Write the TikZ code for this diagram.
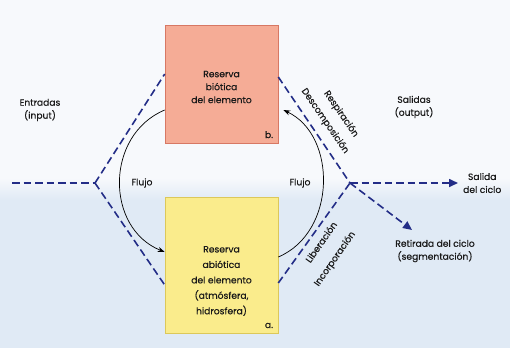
\documentclass[tikz,border=0pt]{standalone}
\usepackage{fontspec}
\setmainfont{Poppins}[FakeBold=0.4]
\usetikzlibrary{arrows.meta}
\definecolor{pinkfill}{RGB}{245,172,150}
\definecolor{pinkdraw}{RGB}{215,120,100}
\definecolor{yelfill}{RGB}{250,236,140}
\definecolor{yeldraw}{RGB}{220,200,90}
\definecolor{navy}{RGB}{35,45,135}
\definecolor{txt}{RGB}{25,25,25}
\definecolor{bgtop}{RGB}{247,249,252}
\definecolor{bgbot}{RGB}{224,234,245}
\begin{document}
\begin{tikzpicture}[x=1bp,y=-1bp,
  every node/.style={text=txt},
  lbl/.style={font=\fontsize{9.2}{13}\selectfont, align=center, inner sep=0pt},
  reserve/.style={minimum width=113bp, minimum height=118bp, inner sep=0pt, line width=0.6bp},
  dline/.style={draw=navy, line width=1.6bp, dash pattern=on 7.5bp off 4bp},
  darrow/.style={dline, -{Triangle[length=9bp,width=8bp]}},
  flow/.style={draw=black, line width=0.7bp, -{Stealth[length=7bp,width=5bp]}}]
\useasboundingbox (0,0) rectangle (510,348);
\fill[bgtop] (0,0) rectangle (510,178);
\shade[top color=bgtop, bottom color=bgbot] (0,178) rectangle (510,200);
\fill[bgbot] (0,200) rectangle (510,348);
% boxes
\node[reserve, fill=pinkfill, draw=pinkdraw] (bio) at (221.5,84) {};
\node[reserve, fill=yelfill, draw=yeldraw, minimum height=136bp] (abio) at (221.5,265) {};
\node[lbl] (biotxt) at (221.5,87) {Reserva\\biótica\\del elemento};
\node[lbl, font=\fontsize{9.2}{15.5}\selectfont] (abiotxt) at (221.5,281) {Reserva\\abiótica\\del elemento\\(atmósfera,\\hidrosfera)};
\node[lbl, anchor=south east] (b) at ([xshift=-5bp,yshift=5bp]bio.south east) {b.};
\node[lbl, anchor=south east] (a) at ([xshift=-5bp,yshift=5bp]abio.south east) {a.};
% junctions
\coordinate (lin) at (12,183);
\coordinate (lj) at (95,183);
\coordinate (rj) at (350,183);
\coordinate (lt) at (bio.west |- 0,74);
\coordinate (lb) at (abio.west |- 0,285);
\coordinate (rt) at (bio.east |- 0,77);
\coordinate (rb) at (abio.east |- 0,283);
\coordinate (outend) at (458,183);
\coordinate (retend) at (412,230);
\draw[dline] (lin) -- (lj);
\draw[dline] (lj) -- (lt);
\draw[dline] (lj) -- (lb);
\draw[dline] (rt) -- (rj);
\draw[dline] (rb) -- (rj);
\draw[darrow] (rj) -- (outend);
\draw[darrow] (rj) -- (retend);
% flows
\coordinate (fl1) at (bio.west |- 0,110);
\coordinate (fl2) at (abio.west |- 0,252);
\coordinate (fr1) at (abio.east |- 0,257);
\coordinate (fr2) at ([xshift=5bp]bio.east |- 0,110);
\draw[flow] (fl1) .. controls (105,135) and (105,228) .. (fl2);
\draw[flow] (fr1) .. controls (337,232) and (337,135) .. (fr2);
% texts
\node[lbl] (entr) at (40,110) {Entradas\\(input)};
\node[lbl] (sal) at (414,107) {Salidas\\(output)};
\node[lbl] (flujo1) at (142,183) {Flujo};
\node[lbl] (flujo2) at (300,183) {Flujo};
\node[lbl, anchor=west] (salida) at (463,183) {Salida\\del ciclo};
\node[lbl] (retir) at (435,251) {Retirada del ciclo\\(segmentación)};
\node[lbl, rotate=-55.5] (resp) at (341,114) {Respiración};
\node[lbl, rotate=-55.5] (desc) at (325,121) {Descomposición};
\node[lbl, rotate=55] (lib) at (321,242) {Liberación};
\node[lbl, rotate=55] (inc) at (335,259) {Incorporación};
\end{tikzpicture}
\end{document}
